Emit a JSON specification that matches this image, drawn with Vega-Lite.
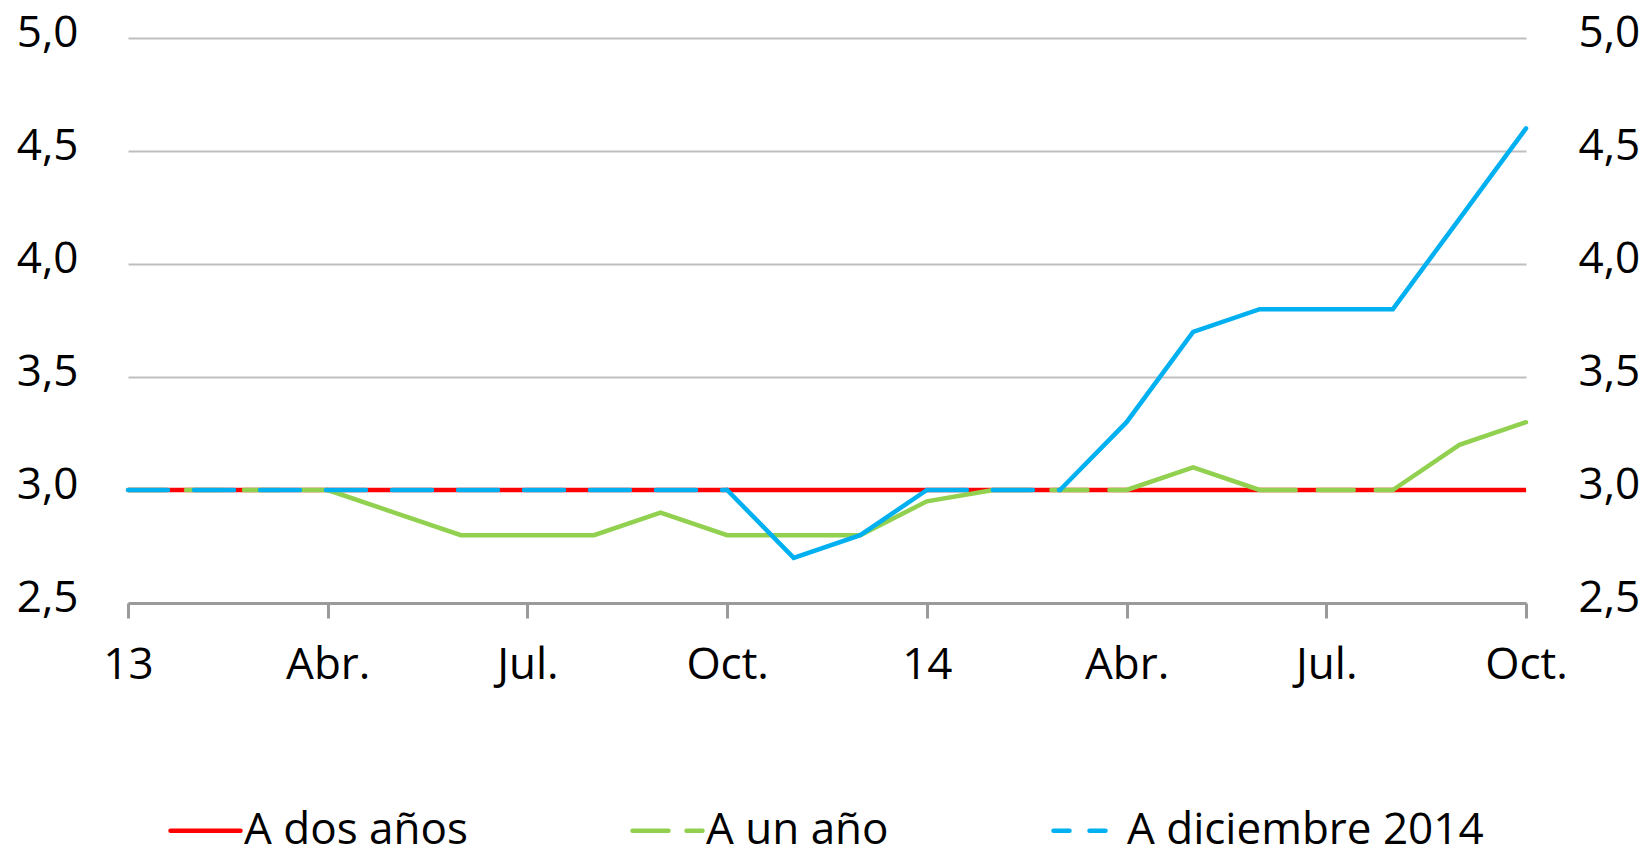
{
  "$schema": "https://vega.github.io/schema/vega-lite/v6.json",
  "autosize": {"type": "none"},
  "padding": {"left": 128, "top": 38, "right": 121, "bottom": 249},
  "width": 1398,
  "height": 565,
  "background": "white",
  "config": {
    "view": {"stroke": null},
    "font": "Open Sans",
    "axis": {"labelFont": "Open Sans", "labelFontSize": 44, "labelFontWeight": 500, "labelColor": "#000000", "title": null}
  },
  "data": {"values": [
    {"mes": "2013-01", "serie": "A dos años", "tramo": 1, "valor": 3.0},
    {"mes": "2013-02", "serie": "A dos años", "tramo": 1, "valor": 3.0},
    {"mes": "2013-03", "serie": "A dos años", "tramo": 1, "valor": 3.0},
    {"mes": "2013-04", "serie": "A dos años", "tramo": 1, "valor": 3.0},
    {"mes": "2013-05", "serie": "A dos años", "tramo": 1, "valor": 3.0},
    {"mes": "2013-06", "serie": "A dos años", "tramo": 1, "valor": 3.0},
    {"mes": "2013-07", "serie": "A dos años", "tramo": 1, "valor": 3.0},
    {"mes": "2013-08", "serie": "A dos años", "tramo": 1, "valor": 3.0},
    {"mes": "2013-09", "serie": "A dos años", "tramo": 1, "valor": 3.0},
    {"mes": "2013-10", "serie": "A dos años", "tramo": 1, "valor": 3.0},
    {"mes": "2013-11", "serie": "A dos años", "tramo": 1, "valor": 3.0},
    {"mes": "2013-12", "serie": "A dos años", "tramo": 1, "valor": 3.0},
    {"mes": "2014-01", "serie": "A dos años", "tramo": 1, "valor": 3.0},
    {"mes": "2014-02", "serie": "A dos años", "tramo": 1, "valor": 3.0},
    {"mes": "2014-03", "serie": "A dos años", "tramo": 1, "valor": 3.0},
    {"mes": "2014-04", "serie": "A dos años", "tramo": 1, "valor": 3.0},
    {"mes": "2014-05", "serie": "A dos años", "tramo": 1, "valor": 3.0},
    {"mes": "2014-06", "serie": "A dos años", "tramo": 1, "valor": 3.0},
    {"mes": "2014-07", "serie": "A dos años", "tramo": 1, "valor": 3.0},
    {"mes": "2014-08", "serie": "A dos años", "tramo": 1, "valor": 3.0},
    {"mes": "2014-09", "serie": "A dos años", "tramo": 1, "valor": 3.0},
    {"mes": "2014-10", "serie": "A dos años", "tramo": 1, "valor": 3.0},

    {"mes": "2013-01", "serie": "A un año", "tramo": 1, "valor": 3.0},
    {"mes": "2013-02", "serie": "A un año", "tramo": 1, "valor": 3.0},
    {"mes": "2013-03", "serie": "A un año", "tramo": 1, "valor": 3.0},
    {"mes": "2013-04", "serie": "A un año", "tramo": 1, "valor": 3.0},
    {"mes": "2013-04", "serie": "A un año", "tramo": 2, "valor": 3.0},
    {"mes": "2013-05", "serie": "A un año", "tramo": 2, "valor": 2.9},
    {"mes": "2013-06", "serie": "A un año", "tramo": 2, "valor": 2.8},
    {"mes": "2013-07", "serie": "A un año", "tramo": 2, "valor": 2.8},
    {"mes": "2013-08", "serie": "A un año", "tramo": 2, "valor": 2.8},
    {"mes": "2013-09", "serie": "A un año", "tramo": 2, "valor": 2.9},
    {"mes": "2013-10", "serie": "A un año", "tramo": 2, "valor": 2.8},
    {"mes": "2013-11", "serie": "A un año", "tramo": 2, "valor": 2.8},
    {"mes": "2013-12", "serie": "A un año", "tramo": 2, "valor": 2.8},
    {"mes": "2014-01", "serie": "A un año", "tramo": 2, "valor": 2.95},
    {"mes": "2014-02", "serie": "A un año", "tramo": 2, "valor": 3.0},
    {"mes": "2014-02", "serie": "A un año", "tramo": 3, "valor": 3.0},
    {"mes": "2014-03", "serie": "A un año", "tramo": 3, "valor": 3.0},
    {"mes": "2014-04", "serie": "A un año", "tramo": 3, "valor": 3.0},
    {"mes": "2014-04", "serie": "A un año", "tramo": 4, "valor": 3.0},
    {"mes": "2014-05", "serie": "A un año", "tramo": 4, "valor": 3.1},
    {"mes": "2014-06", "serie": "A un año", "tramo": 4, "valor": 3.0},
    {"mes": "2014-06", "serie": "A un año", "tramo": 5, "valor": 3.0},
    {"mes": "2014-07", "serie": "A un año", "tramo": 5, "valor": 3.0},
    {"mes": "2014-08", "serie": "A un año", "tramo": 5, "valor": 3.0},
    {"mes": "2014-08", "serie": "A un año", "tramo": 6, "valor": 3.0},
    {"mes": "2014-09", "serie": "A un año", "tramo": 6, "valor": 3.2},
    {"mes": "2014-10", "serie": "A un año", "tramo": 6, "valor": 3.3},

    {"mes": "2013-01", "serie": "A diciembre 2014", "tramo": 1, "valor": 3.0},
    {"mes": "2013-02", "serie": "A diciembre 2014", "tramo": 1, "valor": 3.0},
    {"mes": "2013-03", "serie": "A diciembre 2014", "tramo": 1, "valor": 3.0},
    {"mes": "2013-04", "serie": "A diciembre 2014", "tramo": 1, "valor": 3.0},
    {"mes": "2013-05", "serie": "A diciembre 2014", "tramo": 1, "valor": 3.0},
    {"mes": "2013-06", "serie": "A diciembre 2014", "tramo": 1, "valor": 3.0},
    {"mes": "2013-07", "serie": "A diciembre 2014", "tramo": 1, "valor": 3.0},
    {"mes": "2013-08", "serie": "A diciembre 2014", "tramo": 1, "valor": 3.0},
    {"mes": "2013-09", "serie": "A diciembre 2014", "tramo": 1, "valor": 3.0},
    {"mes": "2013-10", "serie": "A diciembre 2014", "tramo": 1, "valor": 3.0},
    {"mes": "2013-10", "serie": "A diciembre 2014", "tramo": 2, "valor": 3.0},
    {"mes": "2013-11", "serie": "A diciembre 2014", "tramo": 2, "valor": 2.7},
    {"mes": "2013-12", "serie": "A diciembre 2014", "tramo": 2, "valor": 2.8},
    {"mes": "2014-01", "serie": "A diciembre 2014", "tramo": 2, "valor": 3.0},
    {"mes": "2014-01", "serie": "A diciembre 2014", "tramo": 3, "valor": 3.0},
    {"mes": "2014-02", "serie": "A diciembre 2014", "tramo": 3, "valor": 3.0},
    {"mes": "2014-03", "serie": "A diciembre 2014", "tramo": 3, "valor": 3.0},
    {"mes": "2014-03", "serie": "A diciembre 2014", "tramo": 4, "valor": 3.0},
    {"mes": "2014-04", "serie": "A diciembre 2014", "tramo": 4, "valor": 3.3},
    {"mes": "2014-05", "serie": "A diciembre 2014", "tramo": 4, "valor": 3.7},
    {"mes": "2014-06", "serie": "A diciembre 2014", "tramo": 4, "valor": 3.8},
    {"mes": "2014-07", "serie": "A diciembre 2014", "tramo": 4, "valor": 3.8},
    {"mes": "2014-08", "serie": "A diciembre 2014", "tramo": 4, "valor": 3.8},
    {"mes": "2014-09", "serie": "A diciembre 2014", "tramo": 4, "valor": 4.2},
    {"mes": "2014-10", "serie": "A diciembre 2014", "tramo": 4, "valor": 4.6}
  ]},
  "encoding": {
    "x": {
      "field": "mes", "type": "ordinal",
      "scale": {"type": "point", "padding": 0},
      "axis": {
        "values": ["2013-01", "2013-04", "2013-07", "2013-10", "2014-01", "2014-04", "2014-07", "2014-10"],
        "labelExpr": "substring(datum.value,5,7) == '01' ? substring(datum.value,2,4) : substring(datum.value,5,7) == '04' ? 'Abr.' : substring(datum.value,5,7) == '07' ? 'Jul.' : 'Oct.'",
        "labelAngle": 0, "labelAlign": "center", "labelBaseline": "top",
        "domainColor": "#9A9A9A", "domainWidth": 3,
        "tickColor": "#9A9A9A", "tickWidth": 3, "tickSize": 15,
        "labelPadding": 25, "grid": false, "labelOverlap": false
      }
    },
    "color": {
      "field": "serie", "type": "nominal",
      "scale": {"domain": ["A dos años", "A un año", "A diciembre 2014"], "range": ["#FF0000", "#92D050", "#00B0F0"]},
      "legend": {
        "title": null, "orient": "none", "direction": "horizontal",
        "legendX": 40, "legendY": 755, "padding": 0,
        "symbolType": "stroke", "symbolSize": 4900, "symbolStrokeWidth": 4.5,
        "labelFont": "Open Sans", "labelFontSize": 44, "labelFontWeight": 500, "labelColor": "#000000",
        "labelOffset": 1, "columnPadding": 155, "labelLimit": 600,
        "encode": {"symbols": {"update": {
          "strokeDash": {"signal": "datum.value == 'A dos años' ? [1, 0] : datum.value == 'A un año' ? [36, 18] : [16, 20]"},
          "strokeCap": {"value": "round"}
        }}}
      }
    }
  },
  "layer": [
    {
      "transform": [{"filter": "datum.serie == 'A dos años'"}],
      "mark": {"type": "line", "strokeWidth": 4.5},
      "encoding": {
        "y": {"field": "valor", "type": "quantitative",
          "scale": {"domain": [2.5, 5.0], "nice": false, "zero": false},
          "axis": {"orient": "left", "values": [2.5, 3.0, 3.5, 4.0, 4.5, 5.0], "format": ".1f",
            "labelExpr": "replace(datum.label, '.', ',')", "domain": false, "ticks": false,
            "labelPadding": 50, "grid": true, "gridColor": "#BFBFBF", "gridWidth": 2, "labelOffset": -5}
        }
      }
    },
    {
      "transform": [{"filter": "datum.serie == 'A un año' && datum.tramo % 2 == 0"}],
      "mark": {"type": "line", "strokeWidth": 4.5, "strokeCap": "round"},
      "encoding": {
        "detail": {"field": "tramo"},
        "y": {"field": "valor", "type": "quantitative",
          "axis": {"orient": "right", "values": [2.5, 3.0, 3.5, 4.0, 4.5, 5.0], "format": ".1f",
            "labelExpr": "replace(datum.label, '.', ',')", "domain": false, "ticks": false,
            "labelPadding": 52, "grid": false, "labelOffset": -5}
        }
      }
    },
    {
      "transform": [{"filter": "datum.serie == 'A un año' && datum.tramo % 2 == 1"}],
      "mark": {"type": "line", "strokeWidth": 4.5, "strokeCap": "round", "strokeDash": [36, 22]},
      "encoding": {
        "detail": {"field": "tramo"},
        "y": {"field": "valor", "type": "quantitative", "axis": null}
      }
    },
    {
      "transform": [{"filter": "datum.serie == 'A diciembre 2014' && datum.tramo % 2 == 0"}],
      "mark": {"type": "line", "strokeWidth": 4.5, "strokeCap": "round"},
      "encoding": {
        "detail": {"field": "tramo"},
        "y": {"field": "valor", "type": "quantitative", "axis": null}
      }
    },
    {
      "transform": [{"filter": "datum.serie == 'A diciembre 2014' && datum.tramo % 2 == 1"}],
      "mark": {"type": "line", "strokeWidth": 4.5, "strokeCap": "round", "strokeDash": [40, 26]},
      "encoding": {
        "detail": {"field": "tramo"},
        "y": {"field": "valor", "type": "quantitative", "axis": null}
      }
    }
  ],
  "resolve": {"axis": {"y": "independent"}}
}
